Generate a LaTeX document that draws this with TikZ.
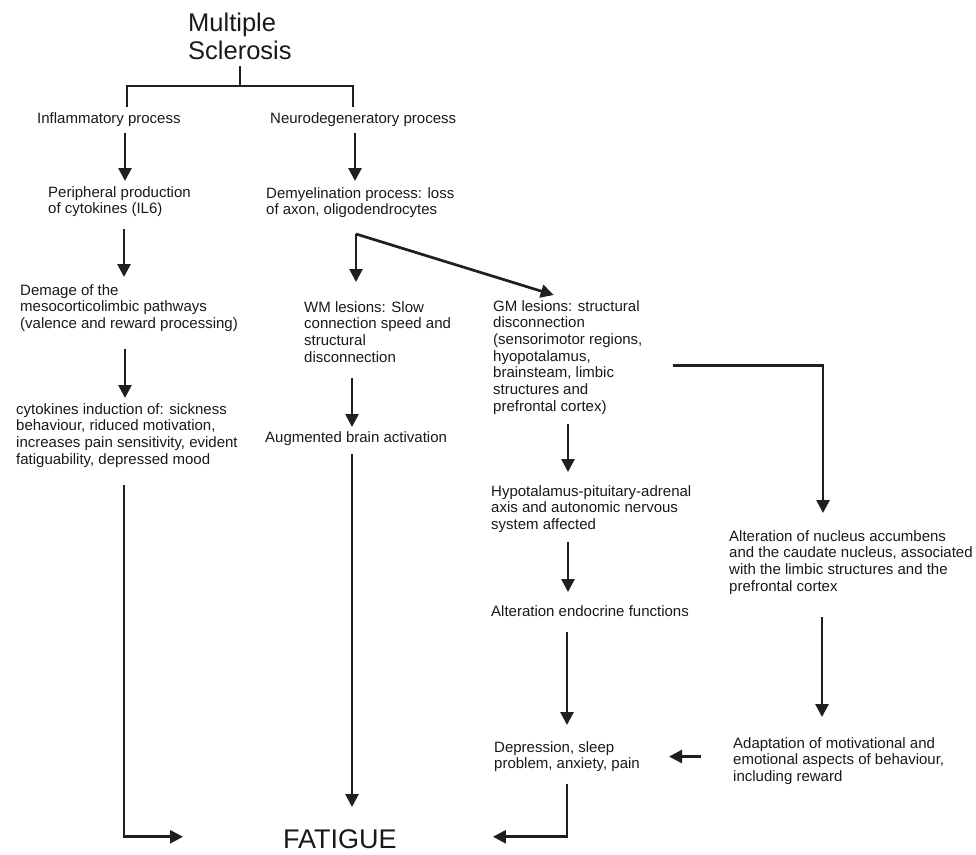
\documentclass[tikz,border=0pt]{standalone}
\usepackage{fontspec}
\setmainfont{Liberation Sans}
\usetikzlibrary{arrows.meta}

\begin{document}
\begin{tikzpicture}[
  x=1pt,y=-1pt,
  txt/.style={anchor=north west,inner sep=0pt,align=left,text=black!90,
              font=\fontsize{15}{16.7}\selectfont},
  big/.style={anchor=north west,inner sep=0pt,align=left,text=black!90},
  arr/.style={-{Triangle[length=13pt,width=13pt]},line width=2.7pt,black!88},
  link/.style={line width=2.2pt,black!88}
]
\useasboundingbox (0,0) rectangle (976,854);

% titles
\node[big,font=\fontsize{25.5}{28}\selectfont] (ms) at (188,13) {Multiple\\Sclerosis};
\node[big,font=\fontsize{27}{30}\selectfont] (fatigue) at (283,829) {FATIGUE};

% left branch
\node[txt] (inflam) at (37,112) {Inflammatory process};
\node[txt] (periph) at (48,186) {Peripheral production\\of cytokines (IL6)};
\node[txt] (demage) at (20,284) {Demage of the\\mesocorticolimbic pathways\\(valence and reward processing)};
\node[txt] (cyto) at (16,403) {cytokines induction of: sickness\\behaviour, riduced motivation,\\increases pain sensitivity, evident\\fatiguability, depressed mood};

% middle branch
\node[txt] (neuro) at (270,112) {Neurodegeneratory process};
\node[txt] (demyel) at (266,187) {Demyelination process: loss\\of axon, oligodendrocytes};
\node[txt] (wm) at (304,301) {WM lesions: Slow\\connection speed and\\structural\\disconnection};
\node[txt] (augm) at (265,431) {Augmented brain activation};

% right branch
\node[txt] (gm) at (493,300) {GM lesions: structural\\disconnection\\(sensorimotor regions,\\hyopotalamus,\\brainsteam, limbic\\structures and\\prefrontal cortex)};
\node[txt] (hpa) at (491,485) {Hypotalamus-pituitary-adrenal\\axis and autonomic nervous\\system affected};
\node[txt] (endo) at (491,605) {Alteration endocrine functions};
\node[txt] (depr) at (494,741) {Depression, sleep\\problem, anxiety, pain};
\node[txt] (nucl) at (729,530) {Alteration of nucleus accumbens\\and the caudate nucleus, associated\\with the limbic structures and the\\prefrontal cortex};
\node[txt] (adapt) at (733,737) {Adaptation of motivational and\\emotional aspects of behaviour,\\including reward};

% tree under the title
\coordinate (split) at (240,86);
\draw[link,shorten <=6pt] (ms.south -| split) -- (split);
\draw[link,shorten <=5pt,shorten >=5pt] (inflam.north -| 127,0) |- (split) -| (neuro.north -| 353,0);

% arrows
\draw[arr,shorten <=7pt,shorten >=5pt] (inflam.south -| 125,0) -- (periph.north -| 125,0);
\draw[arr,shorten <=7pt,shorten >=6pt] (neuro.south -| 355,0) -- (demyel.north -| 355,0);
\draw[arr,shorten <=12pt,shorten >=7pt] (periph.south -| 124,0) -- (demage.north -| 124,0);
\draw[arr,shorten <=17pt,shorten >=5pt] (demage.south -| 125,0) -- (cyto.north -| 125,0);
\coordinate (fork) at (356,234);
\draw[arr,shorten >=19pt] (fork) -- (wm.north -| fork);
\draw[arr,shorten >=17pt] (fork) -- (gm.north -| 570,0);
\draw[arr,shorten <=15pt,shorten >=4pt] (wm.south -| 352,0) -- (augm.north -| 352,0);
\draw[arr,shorten <=9pt,shorten >=22pt] (augm.south -| 352,0) -- (fatigue.north -| 352,0);
\draw[arr,shorten <=18pt,shorten >=100pt] (cyto.south -| 124,0) |- ([yshift=2pt]fatigue.west);
\draw[arr,shorten <=9pt,shorten >=13pt] (gm.south -| 568,0) -- (hpa.north -| 568,0);
\draw[arr,shorten <=30pt,shorten >=17pt] ([yshift=-8pt]gm.east) -| (nucl.north -| 823,0);
\draw[arr,shorten <=9pt,shorten >=13pt] (hpa.south -| 568,0) -- (endo.north -| 568,0);
\draw[arr,shorten <=16pt,shorten >=16pt] (endo.south -| 567,0) -- (depr.north -| 567,0);
\draw[arr,shorten <=23pt,shorten >=20pt] (nucl.south -| 822,0) -- (adapt.north -| 822,0);
\draw[arr,shorten <=32pt,shorten >=29pt] (adapt.west |- depr.east) -- (depr.east);
\draw[arr,shorten <=12pt,shorten >=96pt] (depr.south -| 567,0) |- ([yshift=2pt]fatigue.east);
\end{tikzpicture}
\end{document}
